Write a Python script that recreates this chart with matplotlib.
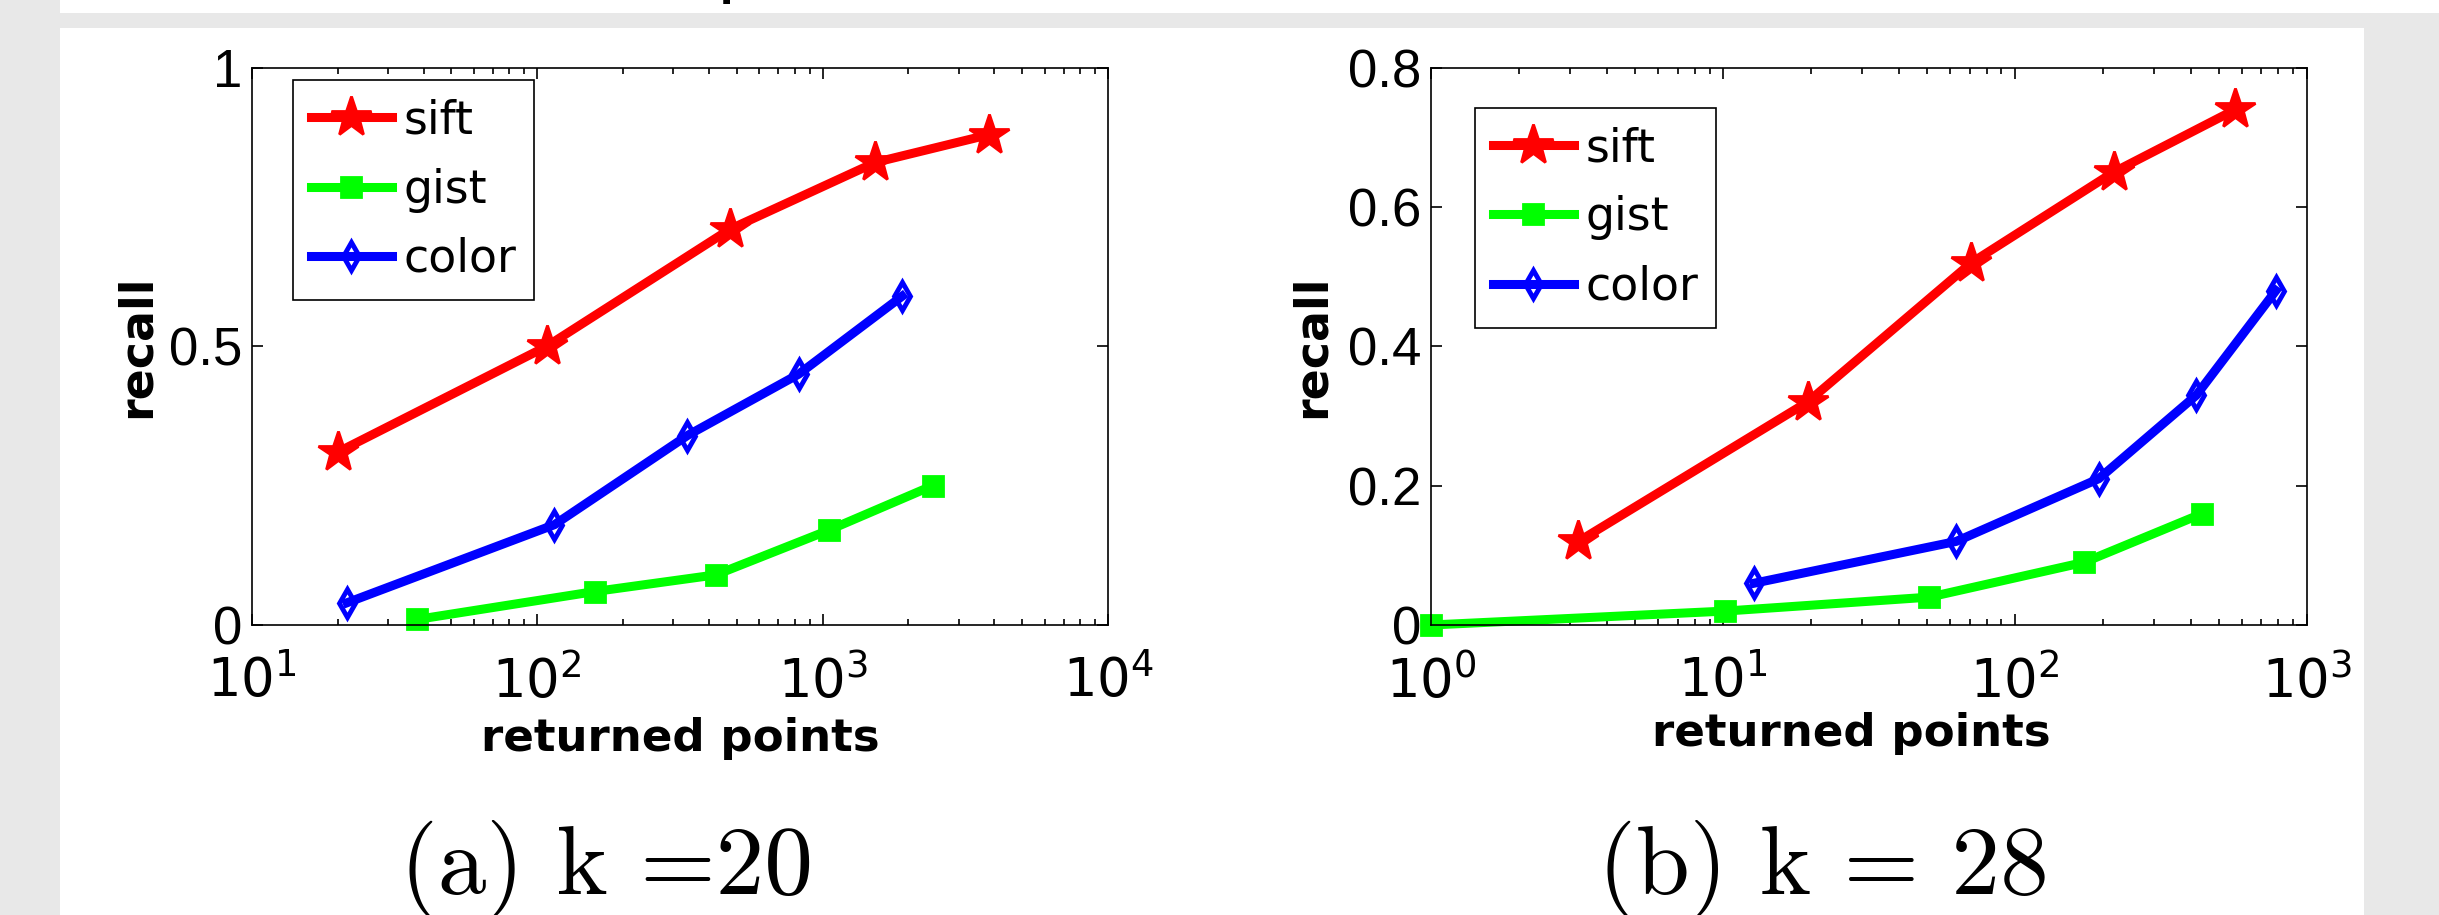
import numpy as np
import matplotlib
matplotlib.use('Agg')
import matplotlib.pyplot as plt
from matplotlib.patches import Rectangle
from matplotlib.ticker import LogLocator, NullFormatter

plt.rcParams['font.family'] = ['DejaVu Sans']
plt.rcParams['mathtext.fontset'] = 'custom'
plt.rcParams['mathtext.rm'] = 'Liberation Sans'
plt.rcParams['mathtext.it'] = 'Liberation Sans'
plt.rcParams['mathtext.default'] = 'rm'

series = ['sift', 'gist', 'color']

# (a) k = 20
a_sift_x = [20, 108, 473, 1530, 3840]
a_sift_y = [0.31, 0.50, 0.71, 0.83, 0.88]
a_gist_x = [38, 159, 423, 1050, 2430]
a_gist_y = [0.01, 0.06, 0.09, 0.17, 0.25]
a_color_x = [21.6, 115, 336, 824, 1900]
a_color_y = [0.04, 0.18, 0.34, 0.45, 0.59]

# (b) k = 28
b_sift_x = [3.2, 19.5, 71, 218, 570]
b_sift_y = [0.12, 0.32, 0.52, 0.65, 0.74]
b_gist_x = [1.0, 10.2, 51, 173, 439]
b_gist_y = [0.0, 0.02, 0.04, 0.09, 0.16]
b_color_x = [12.8, 63, 194, 419, 784]
b_color_y = [0.06, 0.12, 0.21, 0.33, 0.48]

a_yticks = [0, 0.5, 1]
a_yticklabels = ['0', '0.5', '1']
b_yticks = [0, 0.2, 0.4, 0.6, 0.8]
b_yticklabels = ['0', '0.2', '0.4', '0.6', '0.8']
captions = ['(a) k =20', '(b) k = 28']

styles = {
    'sift': dict(color='#ff0000', marker='*', ms=30, mfc='#ff0000', mec='#ff0000', mew=2),
    'gist': dict(color='#00ff00', marker='s', ms=14, mfc='#00ff00', mec='#00ff00', mew=2),
    'color': dict(color='#0000ff', marker='d', ms=14, mfc='none', mec='#0000ff', mew=3.5),
}

W, H = 2439.0, 915.0
fig = plt.figure(figsize=(W / 100, H / 100), dpi=100, facecolor='#e8e8e8')
fig.patches.append(Rectangle((60 / W, 1 - 13 / H), 1 - 60 / W, 13 / H, transform=fig.transFigure,
                             facecolor='white', edgecolor='none', zorder=-5))
fig.patches.append(Rectangle((60 / W, 0), (2364 - 60) / W, (915 - 28) / H, transform=fig.transFigure,
                             facecolor='white', edgecolor='none', zorder=-5))
# bit of a cut-off title at the top edge
fig.text(719.5 / W, 1 + 4 / H, 'p', fontsize=28, fontweight='bold', va='baseline', ha='left')

ax_a = fig.add_axes([251.7 / W, 290 / H, 856.3 / W, 557.3 / H])
ax_b = fig.add_axes([1431 / W, 290 / H, 875.7 / W, 557.3 / H])


def setup(ax, xlim, ylim, yticks, yticklabels):
    ax.set_xscale('log')
    ax.set_xlim(*xlim)
    ax.set_ylim(*ylim)
    ax.set_yticks(yticks)
    ax.set_yticklabels(yticklabels, family='Liberation Sans')
    ax.xaxis.set_major_locator(LogLocator(base=10))
    ax.xaxis.set_minor_locator(LogLocator(base=10, subs=np.arange(2, 10)))
    ax.xaxis.set_minor_formatter(NullFormatter())
    ax.tick_params(which='both', direction='in', top=True, right=True, width=1.2, labelsize=38)
    ax.tick_params(which='major', length=8)
    ax.tick_params(which='minor', length=4)
    ax.tick_params(axis='x', pad=22)
    ax.tick_params(axis='y', pad=7)
    for s in ax.spines.values():
        s.set_linewidth(1.2)
    ax.set_xlabel('returned points', fontsize=32.5, fontweight='bold')
    ax.set_ylabel('recall', fontsize=33, fontweight='bold')


data_a = {'sift': (a_sift_x, a_sift_y), 'gist': (a_gist_x, a_gist_y), 'color': (a_color_x, a_color_y)}
data_b = {'sift': (b_sift_x, b_sift_y), 'gist': (b_gist_x, b_gist_y), 'color': (b_color_x, b_color_y)}

for ax, data in [(ax_a, data_a), (ax_b, data_b)]:
    for name in series:
        x, y = data[name]
        ax.plot(x, y, lw=6.5, label=name, clip_on=False, **styles[name])

setup(ax_a, (10, 1e4), (0, 1), a_yticks, a_yticklabels)
setup(ax_b, (1, 1e3), (0, 0.8), b_yticks, b_yticklabels)

ax_a.xaxis.set_label_coords(0.5, -0.165)
ax_b.xaxis.set_label_coords(0.4796, -0.156)
ax_a.yaxis.set_label_coords(-0.108, 0.5)
ax_b.yaxis.set_label_coords(-0.11, 0.5)

for ax, anchor in [(ax_a, (0.048, 0.978)), (ax_b, (0.050, 0.928))]:
    leg = ax.legend(loc='upper left', bbox_to_anchor=anchor, fontsize=33, frameon=True,
                    fancybox=False, edgecolor='black', framealpha=1, handlelength=1.76,
                    handletextpad=0.25, borderpad=0.4, labelspacing=0.53, borderaxespad=0,
                    numpoints=1)
    leg.get_frame().set_linewidth(1.2)

fig.text(606 / W, 21 / H, captions[0], fontsize=70, family='cmr10', ha='center', va='baseline')
fig.text(1823 / W, 21 / H, captions[1], fontsize=70, family='cmr10', ha='center', va='baseline')

fig.savefig('out.png', dpi=100, facecolor=fig.get_facecolor())
